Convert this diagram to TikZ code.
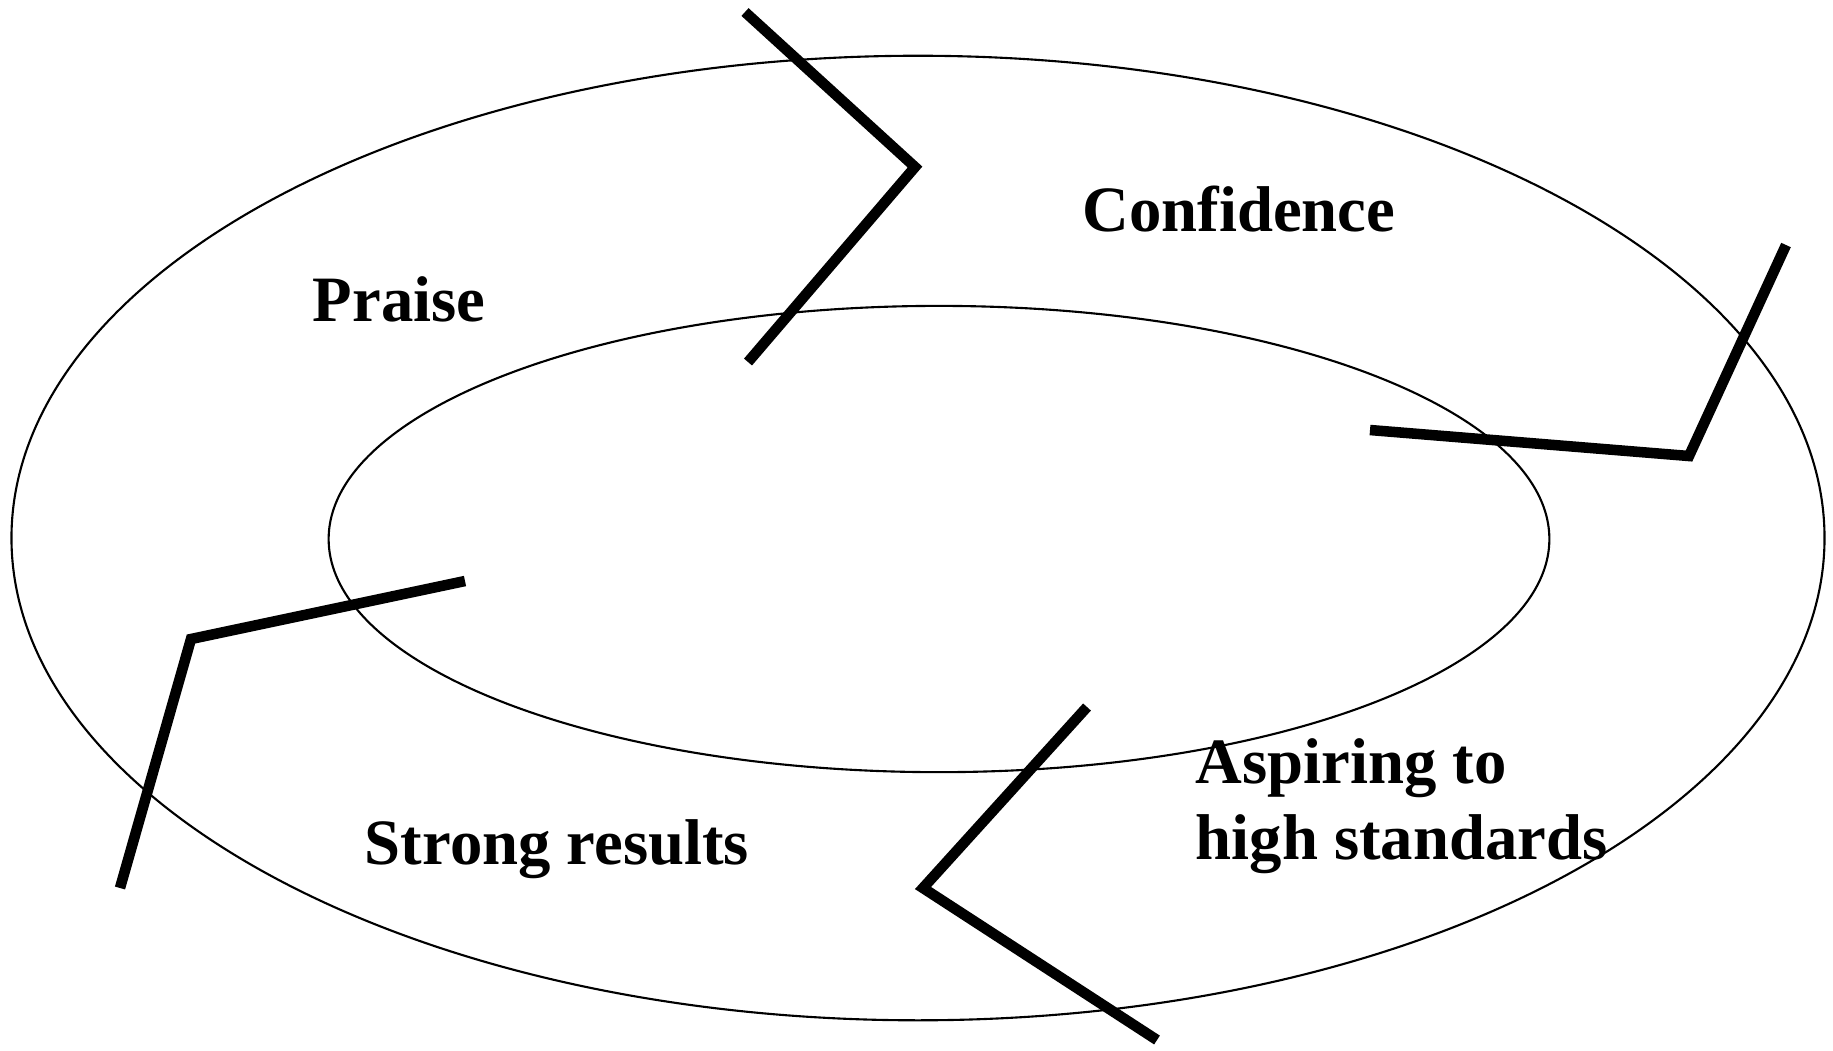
\documentclass[tikz,border=0pt]{standalone}
\usepackage{fontspec}
\setmainfont{Liberation Serif}
\usepackage{tikz}
\tikzset{
  ring/.style={draw=black, line width=0.6pt},
  zig/.style={draw=black, line width=3pt},
  lbl/.style={font=\fontsize{18.4}{21.6}\selectfont\bfseries, inner sep=0pt}
}

\begin{document}
\begin{tikzpicture}[x=0.01cm, y=-0.01cm]
\useasboundingbox (0,0) rectangle (1833,1050);
% the two rings
\draw[ring] (918,538) ellipse [x radius=9.06cm, y radius=4.82cm];
\draw[ring] (939,539) ellipse [x radius=6.10cm, y radius=2.33cm];
% zigzag marks across the rings
\draw[zig] (745,12) -- (915,167) -- (748,362);
\draw[zig] (1786,245) -- (1689,456) -- (1370,430);
\draw[zig] (1087,707) -- (923,888) -- (1157,1040);
\draw[zig] (120,888) -- (191,639) -- (465,581);
% labels
\node[lbl, anchor=base] (praise) at (399,321) {Praise};
\node[lbl, anchor=base] (conf) at (1239,231) {Confidence};
\node[lbl, anchor=base] (strong) at (557,864) {Strong results};
\node[lbl, anchor=base west, align=left] (aspire) at (1195,859) {Aspiring to\\high standards};
\end{tikzpicture}
\end{document}
